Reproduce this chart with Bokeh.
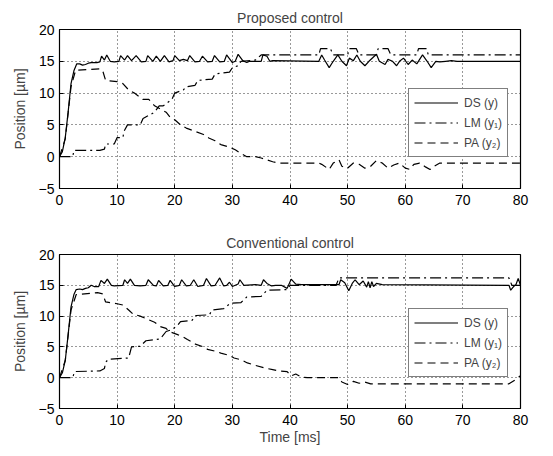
from bokeh.plotting import figure
from bokeh.models import FixedTicker, Range1d
from bokeh.layouts import column
from bokeh.embed import file_html
from bokeh.resources import INLINE

# ---------------- data ----------------
# Proposed control
p_ds_t = [0, 0.5, 1, 1.5, 2, 2.5, 3, 3.5, 4, 4.5, 5, 5.5, 6.5, 7, 7.3, 7.8, 8.2, 8.8, 9.5, 10.3, 10.6, 11.3, 11.8,
          12.5, 13.3, 14.2, 15, 15.3, 16.2, 16.8, 17.5, 18.2, 19, 19.7, 20, 20.8, 21.5, 22.2, 22.6, 23.5, 24.3, 24.8,
          25.7, 26.5, 26.9, 27.8, 28.6, 29, 30, 30.5, 31, 31.8, 32.5, 33, 35, 35.3, 36, 36.5, 37, 45, 45.5, 46,
          46.8, 47.5, 48.3, 49, 49.8, 50.3, 51, 51.6, 52.2, 53, 53.7, 55, 55.5, 56.5, 57, 57.8, 58.5, 59, 59.7,
          60.5, 61.2, 62, 63, 63.8, 64.5, 65.3, 66, 67, 68, 69, 80]
p_ds_y = [0, 0.8, 3, 7, 11.5, 13.5, 14.6, 14.6, 14.4, 14.5, 14.7, 14.8, 14.8, 14.9, 15.8, 15.2, 16, 15, 14.9, 15,
          15.9, 15.2, 15.9, 15.1, 15.9, 14.9, 15, 15.9, 15, 15.8, 15, 15.9, 14.9, 15.1, 15.9, 15.1, 15.3, 15.1,
          15.9, 14.9, 15, 15.8, 14.9, 15, 15.9, 14.9, 15, 16, 14.8, 15, 16.1, 15.1, 14.8, 15, 15, 16, 15.8, 15,
          15.1, 15, 16, 15.2, 14, 15, 16, 15, 14.3, 15.5, 15.1, 16, 15, 14.3, 15, 16.1, 15, 14.5, 15.3, 15, 14.3,
          15, 15.5, 14.5, 15.2, 14.6, 16, 15, 14, 15, 14.9, 15, 15.1, 15, 15]
p_lm_t = [0, 2.3, 2.5, 7, 7.8, 8, 9.5, 10, 11, 11.2, 11.8, 14, 14.5, 15.5, 16.5, 17.3, 18, 19.5, 20, 21.5, 22,
          23.5, 24, 26.5, 27, 29.5, 30, 31, 31.5, 34, 35, 45, 45.3, 47, 47.5, 50, 50.3, 51.5, 52, 55, 55.3, 57,
          57.5, 62, 62.3, 63.7, 64, 80]
p_lm_y = [0, 0, 1, 1, 1.2, 2, 2, 3, 3, 4, 5, 5, 6, 6.5, 7, 8, 8, 9, 10, 10.5, 11, 11.2, 12, 12.2, 13, 13.3, 14,
          14.3, 15, 15.2, 16, 16, 17, 17, 16, 16, 17, 17, 16, 16, 17, 17, 16, 16, 17, 17, 16, 16]
p_pa_t = [0, 1, 2, 2.8, 7, 7.5, 8, 10, 11, 12, 13, 14.5, 15.5, 16.5, 17.5, 18.5, 19.3, 20, 21, 22, 23.5, 25, 26,
          27, 28, 29.5, 30.5, 31.5, 32.5, 34, 35, 36, 37, 38, 45, 45.5, 46.8, 47.5, 48.5, 49, 50, 51, 52, 53, 54,
          55, 56, 57, 58, 59, 60, 60.8, 61.5, 62.5, 63.5, 64.3, 65, 66, 80]
p_pa_y = [0, 2.8, 11, 13.6, 13.8, 13.5, 12, 11.8, 11.5, 10.5, 10, 9, 9, 8, 7.5, 7, 6.1, 5.8, 5, 4.5, 4, 3.5, 2.9,
          2.5, 1.9, 1.5, 1.1, 0.5, 0, 0, -0.2, -0.5, -0.8, -1.0, -1.0, -1.2, -2, -1, -0.5, -1.5, -1.8, -1, -1.2,
          -1.8, -1.5, -0.6, -1, -1.8, -1.3, -1, -1.8, -2, -1.2, -1, -1.6, -2, -1.5, -1, -1]

# Conventional control
c_ds_t = [0, 0.5, 1, 1.5, 2, 2.5, 2.9, 3.5, 4, 4.5, 5, 5.5, 6, 6.8, 7.2, 7.8, 8.3, 9, 9.5, 11, 11.3, 11.8, 12.3,
          13, 14, 15, 15.4, 16.3, 16.8, 17.2, 18, 18.8, 19.2, 20, 20.8, 21.2, 22, 22.7, 23.3, 24, 25, 25.5, 26.3,
          27, 27.8, 28.5, 29, 29.5, 30, 31, 31.3, 32, 34, 35, 35.4, 36, 36.8, 37.5, 38.5, 39.5, 40.2, 41, 42, 48.5,
          48.8, 49.5, 50.2, 50.8, 51.3, 52, 52.7, 53.3, 53.6, 53.9, 54.2, 54.5, 55, 56, 78, 78.3, 78.8, 79.2, 79.6, 80]
c_ds_y = [0, 0.8, 2.8, 7, 11.5, 13.5, 14.3, 14.4, 14.3, 14.5, 14.6, 15, 14.8, 14.8, 15.8, 15.3, 16, 15, 14.9, 15,
          15.9, 15.3, 16, 15, 14.9, 15, 15.9, 15, 14.9, 15.8, 14.9, 15, 15.8, 14.8, 15, 15.9, 14.9, 15, 15.9, 14.8,
          15, 16.1, 14.9, 15, 16.2, 14.9, 15, 15.5, 14.8, 15.2, 15.9, 15, 15.1, 15, 15.9, 15.3, 14.9, 15, 15, 14.5,
          16, 15.2, 15.1, 15.1, 15.9, 15.4, 14.1, 15.3, 15.9, 15.1, 15.7, 14.7, 15.6, 14.6, 15.6, 14.8, 15.3, 15.1,
          15, 14.2, 14.8, 15.1, 16.1, 15]
c_lm_t = [0, 2.3, 2.6, 7, 7.8, 8, 8.5, 12, 12.5, 14, 15, 17.5, 18.5, 19.5, 20.5, 21, 23, 23.7, 26, 26.5, 28.5,
          29.7, 31.5, 32.5, 35, 36, 39.5, 40, 48, 48.5, 78, 78.5, 80]
c_lm_y = [0, 0, 1, 1.1, 1.5, 2.5, 3, 3.2, 5, 5.1, 6, 6.3, 7.5, 7.8, 8.5, 9.1, 9.3, 10.1, 10.2, 11, 11.2, 12.1,
          12.2, 13.1, 13.2, 14.2, 14.3, 15, 15, 16.2, 16.2, 15, 15]
c_pa_t = [0, 1, 2, 2.9, 6.6, 7.5, 8, 10, 11, 12, 12.8, 14, 15.5, 16.5, 17.5, 18.5, 19, 20.5, 21.5, 22.2, 23, 23.7,
          25, 25.7, 27, 28, 29.5, 30.3, 31.5, 32.6, 34, 35.5, 37, 38, 39.5, 40.2, 41, 42, 43, 48.5, 49, 50, 51,
          52, 53, 54, 55, 78, 79, 79.5, 80]
c_pa_y = [0, 2.8, 11, 13.5, 13.8, 13.6, 12.3, 12, 11.8, 11, 10.3, 10, 9.4, 9, 8.3, 8, 7.5, 7, 6.6, 6.2, 5.8, 5.4,
          5, 4.6, 4.3, 4, 3.6, 3.2, 2.9, 2.4, 2, 1.6, 1.3, 1.1, 1, 0.3, 0.6, 0.1, 0, 0, -0.7, -1.1, -0.6, -0.9,
          -0.7, -1, -1, -1, -0.4, 0, 0.3]

x_ticks = [0, 10, 20, 30, 40, 50, 60, 70, 80]
y_ticks = [-5, 0, 5, 10, 15, 20]
legend_labels = ["DS (y)", "LM (y\u2081)", "PA (y\u2082)"]
titles = ["Proposed control", "Conventional control"]

FONT = "Liberation Sans"


def make_panel(title, ds, lm, pa, height, top_border, bottom_border, show_xlabel):
    p = figure(width=543, height=height, output_backend="svg", toolbar_location=None,
               x_range=Range1d(0, 80), y_range=Range1d(-5, 20),
               min_border_left=59, min_border_right=23, min_border_top=top_border,
               min_border_bottom=bottom_border)
    p.title.text = title
    p.title.align = "center"
    p.title.text_font = FONT
    p.title.text_font_size = "14px"
    p.title.text_font_style = "normal"
    p.title.standoff = 8
    p.outline_line_color = "black"
    p.outline_line_width = 1.2
    p.background_fill_color = "white"

    p.line(ds[0], ds[1], color="black", line_width=1.2, legend_label=legend_labels[0])
    p.line(lm[0], lm[1], color="black", line_width=1.2, line_dash="11 4 2 4", legend_label=legend_labels[1])
    p.line(pa[0], pa[1], color="black", line_width=1.2, line_dash="8 5", legend_label=legend_labels[2])

    for ax in (p.xaxis[0], p.yaxis[0]):
        ax.major_tick_in = 4
        ax.major_tick_out = 0
        ax.minor_tick_line_color = None
        ax.axis_line_color = None
        ax.major_tick_line_color = "black"
        ax.major_label_text_font = FONT
        ax.major_label_text_font_size = "14px"
        ax.major_label_text_color = "black"
        ax.axis_label_text_font = FONT
        ax.axis_label_text_font_size = "14px"
        ax.axis_label_text_font_style = "normal"
    p.xaxis.ticker = FixedTicker(ticks=x_ticks)
    p.yaxis.ticker = FixedTicker(ticks=y_ticks)
    p.yaxis.major_label_overrides = {-5: "\u22125"}
    p.yaxis.axis_label = "Position [\u00b5m]"
    p.yaxis.axis_label_standoff = 8
    p.yaxis.major_label_standoff = 5
    p.xaxis.major_label_standoff = 6
    if show_xlabel:
        p.xaxis.axis_label = "Time [ms]"
        p.xaxis.axis_label_standoff = 1

    p.grid.grid_line_color = "black"
    p.grid.grid_line_dash = "1 3"
    p.grid.grid_line_alpha = 0.8
    p.grid.grid_line_width = 1
    p.xgrid.ticker = FixedTicker(ticks=x_ticks)
    p.ygrid.ticker = FixedTicker(ticks=y_ticks)

    lg = p.legend[0]
    lg.location = (349, 31)
    lg.border_line_color = "black"
    lg.border_line_width = 1.2
    lg.background_fill_color = "white"
    lg.background_fill_alpha = 1
    lg.label_text_font = FONT
    lg.label_text_font_size = "12px"
    lg.glyph_width = 44
    lg.glyph_height = 17
    lg.label_height = 17
    lg.spacing = 3
    lg.padding = 5
    lg.margin = 0
    lg.label_standoff = 6
    return p


p1 = make_panel(titles[0], (p_ds_t, p_ds_y), (p_lm_t, p_lm_y), (p_pa_t, p_pa_y),
                height=228, top_border=29, bottom_border=40, show_xlabel=False)
p2 = make_panel(titles[1], (c_ds_t, c_ds_y), (c_lm_t, c_lm_y), (c_pa_t, c_pa_y),
                height=219, top_border=26, bottom_border=38, show_xlabel=True)

layout = column(p1, p2, spacing=0)
open("out.html", "w").write(file_html(layout, INLINE))
